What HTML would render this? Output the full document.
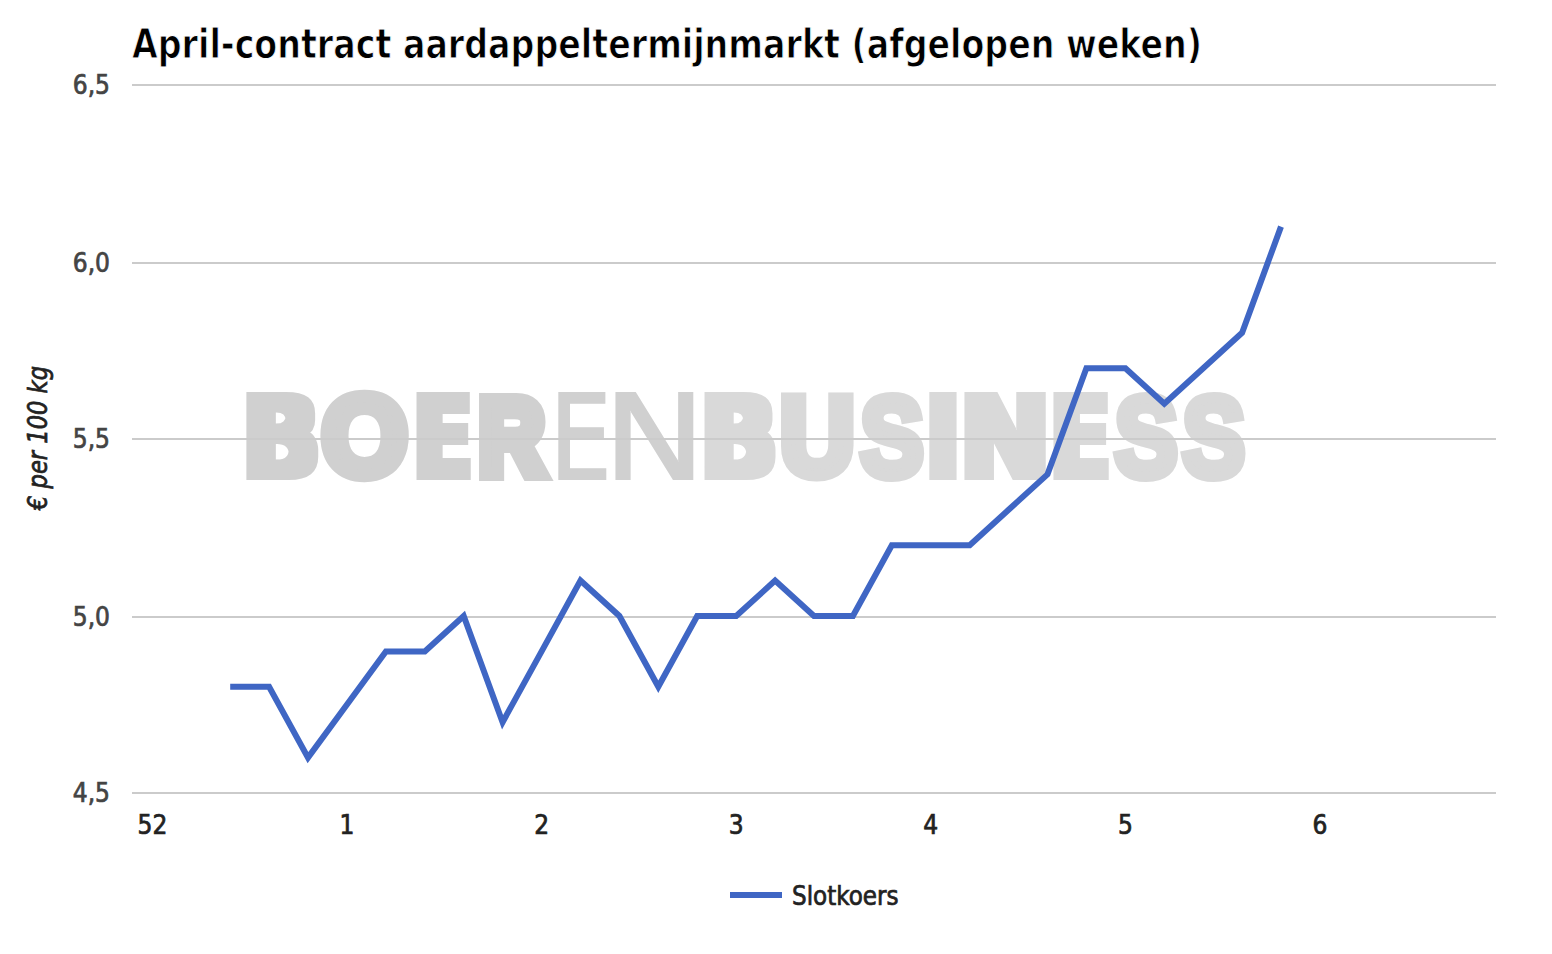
<!DOCTYPE html>
<html><head><meta charset="utf-8"><title>April-contract aardappeltermijnmarkt</title>
<style>
html,body{margin:0;padding:0;background:#fff;overflow:hidden;}
svg{display:block;}
text{font-family:"DejaVu Sans Condensed",Arial,sans-serif;}
.ttl{font-family:"DejaVu Sans Condensed",Arial,sans-serif;}
</style></head><body>
<svg width="1552" height="954" viewBox="0 0 1552 954">
<defs>
<filter id="fatH" x="-20%" y="-20%" width="140%" height="140%"><feMorphology operator="dilate" radius="4.6 2.5"/></filter>
<filter id="fatT" x="-20%" y="-20%" width="140%" height="140%"><feMorphology operator="dilate" radius="1 0.5"/></filter>
</defs>
<rect x="0" y="0" width="1552" height="954" fill="#ffffff"/>
<g class="wm">
<g filter="url(#fatH)"><text transform="translate(242.05,477.20) scale(1.0092,0.9836)" style='font-family:"DejaVu Sans Condensed",sans-serif' font-weight="bold" font-size="113.4" fill="#d0d0d0">B</text></g>
<g><text transform="translate(322.02,474.61) scale(1.0138,1.0386)" style='font-family:"Liberation Sans",sans-serif' font-weight="bold" font-size="108.1" fill="#d0d0d0" stroke="#d0d0d0" stroke-width="12" stroke-linejoin="miter" stroke-miterlimit="4">O</text></g>
<g filter="url(#fatH)"><text transform="translate(413.65,477.20) scale(0.8354,0.9836)" style='font-family:"DejaVu Sans Condensed",sans-serif' font-weight="bold" font-size="113.4" fill="#d0d0d0">E</text></g>
<g><text transform="translate(478.96,473.80) scale(0.8601,1.0139)" style='font-family:"Liberation Sans",sans-serif' font-weight="bold" font-size="105.3" fill="#d0d0d0" stroke="#d0d0d0" stroke-width="14" stroke-linejoin="miter" stroke-miterlimit="4">R</text></g>
<g filter="url(#fatT)"><text transform="translate(549.79,479.22) scale(0.9129,0.9844)" style='font-family:"DejaVu Sans Condensed",sans-serif' font-weight="normal" font-size="118.9" fill="#d0d0d0">E</text></g>
<g filter="url(#fatT)"><text transform="translate(603.10,479.23) scale(1.2836,0.9844)" style='font-family:"DejaVu Sans Condensed",sans-serif' font-weight="normal" font-size="118.9" fill="#d0d0d0">N</text></g>
<g filter="url(#fatH)"><text transform="translate(700.17,477.20) scale(0.9950,0.9836)" style='font-family:"DejaVu Sans Condensed",sans-serif' font-weight="bold" font-size="113.4" fill="#d9d9d9">B</text></g>
<g><text transform="translate(780.06,474.94) scale(0.9429,1.0093)" style='font-family:"Liberation Sans",sans-serif' font-weight="bold" font-size="109.6" fill="#d9d9d9" stroke="#d9d9d9" stroke-width="11" stroke-linejoin="miter" stroke-miterlimit="4">U</text></g>
<g><text transform="translate(860.20,476.20) scale(0.8419,0.9994)" style='font-family:"Liberation Sans",sans-serif' font-weight="bold" font-size="112.9" fill="#d9d9d9" stroke="#d9d9d9" stroke-width="10" stroke-linejoin="miter" stroke-miterlimit="4">S</text></g>
<g filter="url(#fatH)"><text transform="translate(925.97,477.20) scale(0.8939,0.9836)" style='font-family:"DejaVu Sans Condensed",sans-serif' font-weight="bold" font-size="113.4" fill="#d9d9d9">I</text></g>
<g filter="url(#fatH)"><text transform="translate(959.62,477.20) scale(1.0684,0.9836)" style='font-family:"DejaVu Sans Condensed",sans-serif' font-weight="bold" font-size="113.4" fill="#d9d9d9">N</text></g>
<g filter="url(#fatH)"><text transform="translate(1050.47,477.20) scale(0.8549,0.9836)" style='font-family:"DejaVu Sans Condensed",sans-serif' font-weight="bold" font-size="113.4" fill="#d9d9d9">E</text></g>
<g><text transform="translate(1114.63,476.21) scale(0.8350,0.9997)" style='font-family:"Liberation Sans",sans-serif' font-weight="bold" font-size="112.9" fill="#d9d9d9" stroke="#d9d9d9" stroke-width="10" stroke-linejoin="miter" stroke-miterlimit="4">S</text></g>
<g><text transform="translate(1182.50,476.24) scale(0.8297,1.0002)" style='font-family:"Liberation Sans",sans-serif' font-weight="bold" font-size="112.9" fill="#d9d9d9" stroke="#d9d9d9" stroke-width="10" stroke-linejoin="miter" stroke-miterlimit="4">S</text></g>
</g>
<g fill="#cbcbcb">
<rect x="132" y="84" width="1364" height="2"/>
<rect x="132" y="262" width="1364" height="2"/>
<rect x="132" y="438" width="1364" height="2"/>
<rect x="132" y="616" width="1364" height="2"/>
<rect x="132" y="792" width="1364" height="2"/>
</g>
<polyline points="230.2,686.8 269.1,686.8 308.0,757.6 347.0,704.5 385.9,651.4 424.8,651.4 463.7,616.0 502.6,722.2 541.6,651.4 580.5,580.6 619.4,616.0 658.3,686.8 697.2,616.0 736.2,616.0 775.1,580.6 814.0,616.0 852.9,616.0 891.8,545.2 930.8,545.2 969.7,545.2 1008.6,509.8 1047.5,474.4 1086.4,368.2 1125.4,368.2 1164.3,403.6 1203.2,368.2 1242.1,332.8 1281.0,226.6" fill="none" stroke="#3f66c4" stroke-width="6" stroke-linejoin="miter" stroke-miterlimit="10" stroke-linecap="butt"/>
<g font-size="26" fill="#444444" text-anchor="end" stroke="#444444" stroke-width="0.7">
<text x="110" y="93.9">6,5</text>
<text x="110" y="271.9">6,0</text>
<text x="110" y="447.9">5,5</text>
<text x="110" y="625.9">5,0</text>
<text x="110" y="801.9">4,5</text>
</g>
<g font-size="26" fill="#222222" text-anchor="middle" stroke="#222222" stroke-width="0.7">
<text x="152.4" y="833.5">52</text>
<text x="347.0" y="833.5">1</text>
<text x="541.6" y="833.5">2</text>
<text x="736.2" y="833.5">3</text>
<text x="930.8" y="833.5">4</text>
<text x="1125.4" y="833.5">5</text>
<text x="1320.0" y="833.5">6</text>
</g>
<text x="0" y="0" transform="translate(47,438) rotate(-90)" font-size="27" font-style="italic" fill="#222222" text-anchor="middle" stroke="#222222" stroke-width="0.7" textLength="144" lengthAdjust="spacingAndGlyphs">€ per 100 kg</text>
<text class="ttl" x="132" y="58.3" font-size="40" font-weight="bold" fill="#000000" stroke="#ffffff" stroke-width="0.9" textLength="1070" lengthAdjust="spacingAndGlyphs">April-contract aardappeltermijnmarkt (afgelopen weken)</text>
<rect x="730" y="892" width="52" height="6" fill="#3f66c4"/>
<text x="792" y="905" font-size="27" fill="#222222" stroke="#222222" stroke-width="0.7" textLength="106.5" lengthAdjust="spacingAndGlyphs">Slotkoers</text>
</svg>
</body></html>
